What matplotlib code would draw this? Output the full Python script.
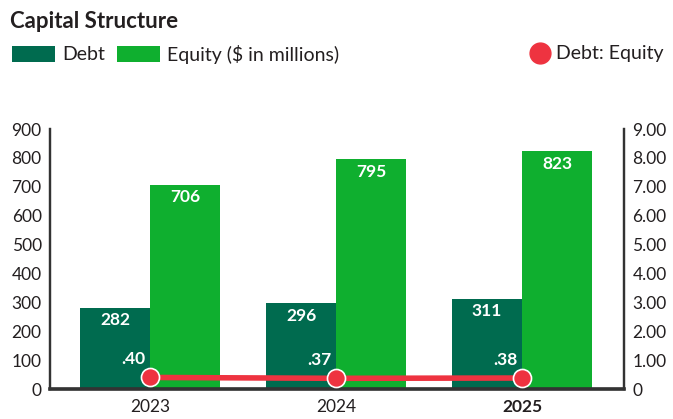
import matplotlib.pyplot as plt
from matplotlib.lines import Line2D
from matplotlib.patches import Patch

years = ["2023", "2024", "2025"]
debt = [282, 296, 311]
equity = [706, 795, 823]
ratio = [0.40, 0.37, 0.38]
ratio_labels = [".40", ".37", ".38"]

debt_color = "#006B4F"
equity_color = "#0FAF2F"
red = "#EE3340"
ink = "#231F20"

plt.rcParams["font.family"] = ["Lato", "DejaVu Sans"]

fig = plt.figure(figsize=(6.73, 4.19), dpi=100)
ax = fig.add_axes([50 / 673, 1 - 389 / 419, 574 / 673, 260 / 419])

x = range(len(years))
w = 0.376
ax.bar([i - w / 2 for i in x], debt, width=w, color=debt_color)
ax.bar([i + w / 2 for i in x], equity, width=w, color=equity_color)

for i in x:
    ax.text(i - w / 2, debt[i] - 15, str(debt[i]), color="white", fontsize=12.5,
            fontweight="bold", ha="center", va="top")
    ax.text(i + w / 2, equity[i] - 15, str(equity[i]), color="white", fontsize=12.5,
            fontweight="bold", ha="center", va="top")

ax.set_xlim(-0.538, 2.548)
ax.set_ylim(0, 900)
ax.set_yticks(range(0, 901, 100))
ax.set_xticks(list(x))
ax.set_xticklabels(years)
ax.get_xticklabels()[2].set_fontweight("bold")

ax2 = ax.twinx()
ax2.set_ylim(0, 9)
ax2.set_yticks(range(0, 10))
ax2.set_yticklabels(["0"] + ["%.2f" % v for v in range(1, 10)])
ax2.plot(list(x), ratio, color=red, lw=4, marker="o", ms=13,
         markerfacecolor=red, markeredgecolor="white", markeredgewidth=1.2,
         solid_capstyle="butt", zorder=5)
for i in x:
    ax2.text(i - 0.09, ratio[i] + 0.35, ratio_labels[i], color="white", fontsize=12.5,
             fontweight="bold", ha="center", va="bottom")

for a in (ax, ax2):
    a.spines["top"].set_visible(False)
    for s in ("left", "right", "bottom"):
        a.spines[s].set_color("#333333")
        a.spines[s].set_linewidth(1.6)
    a.tick_params(length=0, labelsize=12.5, colors=ink)
ax.spines["bottom"].set_linewidth(2.6)
ax.tick_params(axis="x", pad=7)
ax.tick_params(axis="y", pad=6)
ax2.tick_params(axis="y", pad=6)

fig.text(10 / 673, 1 - 22 / 419, "Capital Structure", fontsize=16, fontweight="bold",
         color=ink, va="center", ha="left")

h1 = [Patch(facecolor=debt_color, label="Debt"),
      Patch(facecolor=equity_color, label="Equity ($ in millions)")]
fig.legend(handles=h1, loc="center left", bbox_to_anchor=(12 / 673, 1 - 54 / 419),
           ncol=2, frameon=False, handlelength=2.2, handleheight=0.9,
           columnspacing=0.65, handletextpad=0.36, fontsize=14, labelcolor=ink,
           borderpad=0, borderaxespad=0)
h2 = [Line2D([], [], color=red, marker="o", ms=15, lw=0, label="Debt: Equity")]
fig.legend(handles=h2, loc="center right", bbox_to_anchor=(663 / 673, 1 - 54 / 419),
           frameon=False, handletextpad=0.2, handlelength=1.2, fontsize=14,
           labelcolor=ink, borderpad=0, borderaxespad=0)

fig.savefig("out.png", dpi=100)
